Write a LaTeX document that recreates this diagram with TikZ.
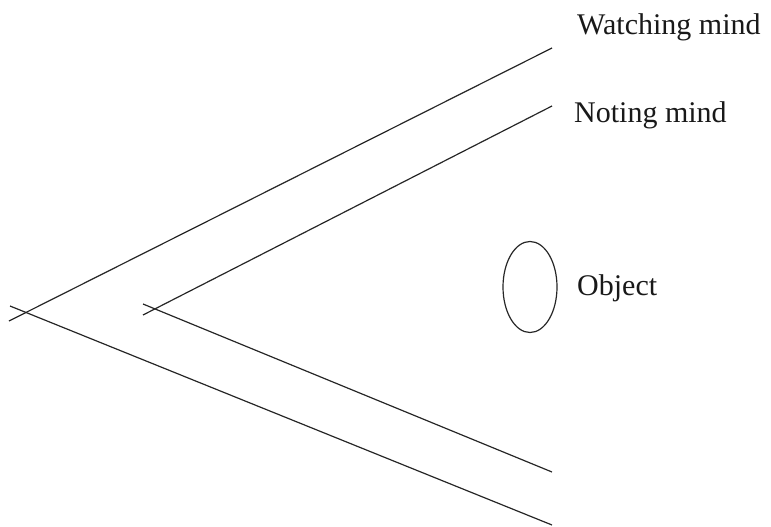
\documentclass[tikz,border=0pt]{standalone}
\usepackage{fontspec}
\setmainfont{Liberation Serif}
\usetikzlibrary{shapes.geometric}
\begin{document}
\begin{tikzpicture}[x=1pt,y=-1pt,
  ln/.style={line width=1.2pt, draw=black!85},
  lbl/.style={anchor=base west, inner sep=0pt, font=\fontsize{30}{32}\selectfont, text=black!90}]
\useasboundingbox (0,0) rectangle (771,527);
% outer V
\coordinate (os) at (9,321);
\coordinate (oe) at (552,48);
\coordinate (ls) at (10,306);
\coordinate (le) at (552,525);
% inner V
\coordinate (is) at (143,315);
\coordinate (ie) at (552,106);
\coordinate (ks) at (143,304);
\coordinate (ke) at (552,472);
\draw[ln] (os) -- (oe);
\draw[ln] (ls) -- (le);
\draw[ln] (is) -- (ie);
\draw[ln] (ks) -- (ke);
\node[ellipse, draw=black!85, line width=1.2pt, minimum width=54pt, minimum height=91pt, inner sep=0pt] (obj) at (530,287) {};
\node[lbl] (watch) at (577,35) {Watching mind};
\node[lbl] (note) at (574,122) {Noting mind};
\node[lbl] (objl) at (577,295) {Object};
\end{tikzpicture}
\end{document}
